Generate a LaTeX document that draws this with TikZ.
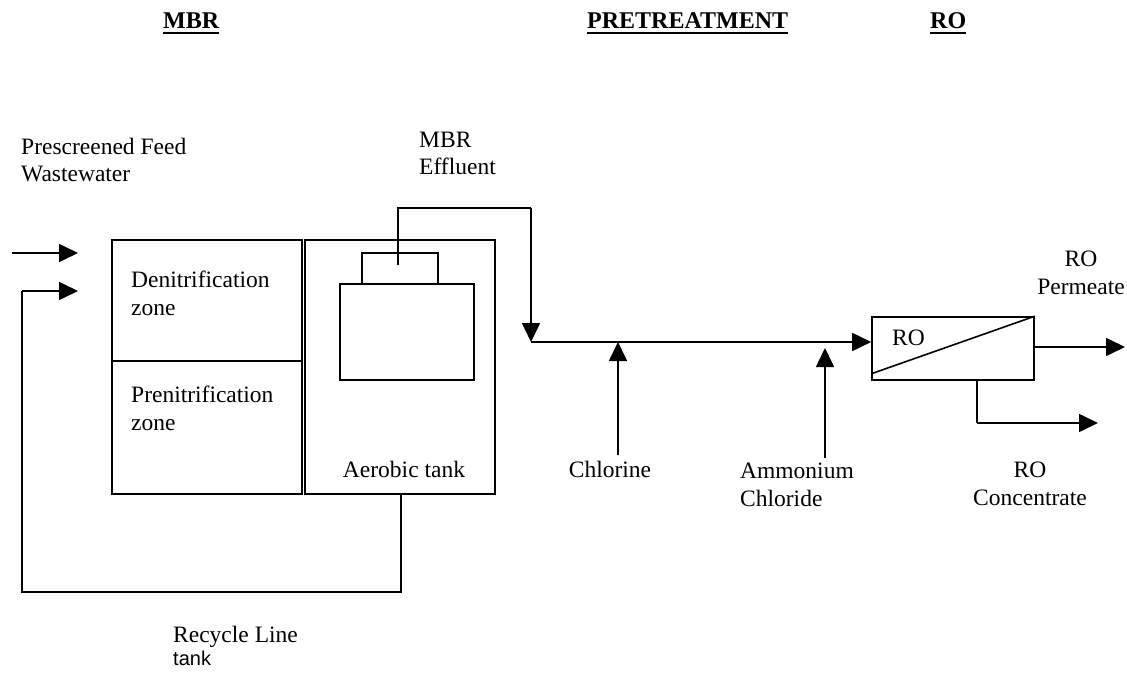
\documentclass[tikz,border=0pt]{standalone}
\usepackage{fontspec}
\setmainfont{Liberation Serif}
\newfontfamily\sansfnt{Liberation Sans}
\usetikzlibrary{arrows.meta}
\begin{document}
\begin{tikzpicture}[x=1pt,y=-1pt,
  flow/.style={line width=1.6pt,-{Triangle[length=19pt,width=18pt]}},
  pipe/.style={line width=1.6pt},
  box/.style={draw,line width=1.6pt,inner sep=0,minimum width=#1},
  lbl/.style={font=\fontsize{23.5}{28}\selectfont,align=left,inner sep=0,anchor=base west},
  hdr/.style={font=\fontsize{24}{28}\selectfont\bfseries,inner sep=0,anchor=base west},
  uline/.style={line width=2.6pt}]
\useasboundingbox (0,0) rectangle (1127,674);
% headers
\node[hdr] (hmbr) at (163,29) {MBR};
\node[hdr] (hpre) at (587,29) {PRETREATMENT};
\node[hdr] (hro) at (930,29) {RO};
\foreach \h in {hmbr,hpre,hro}
  \draw[uline] ([yshift=-4pt]\h.base west) -- ([yshift=-4pt]\h.base east);
% MBR tanks
\node[box=190pt,minimum height=121pt] (den) at (207,300.5) {};
\node[box=190pt,minimum height=133pt] (pren) at (207,427.5) {};
\node[box=190pt,minimum height=254pt] (aer) at (400,367) {};
\node[box=134pt,minimum height=96pt] (inner) at (407,332) {};
\node[box=76pt,minimum height=31pt] (small) at (400,268.5) {};
\node[lbl] (tden) at (131,315) {Denitrification\\zone};
\node[lbl] (tpren) at (131,430) {Prenitrification\\zone};
\node[lbl,anchor=base] (taer) at (404,477) {Aerobic tank};
% feed
\coordinate (f0) at (12,253);
\coordinate (f1) at (78,253);
\draw[flow] (f0) -- (f1);
\node[lbl] (tfeed) at (21,182) {Prescreened Feed\\Wastewater};
% recycle
\coordinate (r0) at (401,494);
\coordinate (r1) at (401,592);
\coordinate (r2) at (22,592);
\coordinate (r3) at (22,291);
\coordinate (r4) at (78,291);
\draw[pipe] (r0) -- (r1) -- (r2) -- (r3);
\draw[flow] (r3) -- (r4);
\node[lbl] (trec) at (173,642) {Recycle Line};
\node[inner sep=0,anchor=base west,font=\sansfnt\fontsize{20}{22}\selectfont] (ttank) at (173,665) {tank};
% effluent
\coordinate (p0) at (398,265);
\coordinate (p1) at (398,208);
\coordinate (p2) at (531,208);
\coordinate (m) at (531,342);
\draw[pipe] (p0) -- (p1) -- (p2);
\draw[flow] (p2) -- (m);
\node[lbl] (teff) at (419,175) {MBR\\Effluent};
% RO
\node[box=162pt,minimum height=63pt] (ro) at (953,348.5) {};
\draw[pipe] ([yshift=7pt]ro.south west) -- (ro.north east);
\node[lbl] (tro) at (892,345) {RO};
\draw[flow] (m) -- (m -| ro.west);
% chemicals
\coordinate (cl) at (618,455);
\draw[flow] (cl) -- (cl |- m);
\node[lbl,anchor=base] (tcl) at (610,477) {Chlorine};
\coordinate (am) at (825,458);
\coordinate (amt) at (825,348);
\draw[flow] (am) -- (amt);
\node[lbl] (tam) at (740,506) {Ammonium\\Chloride};
% outputs
\coordinate (pe) at (1125,347);
\draw[flow] (pe -| ro.east) -- (pe);
\node[lbl,anchor=base,align=center] (tpe) at (1081,294) {RO\\Permeate};
\coordinate (c0) at (977,423);
\coordinate (c1) at (1098,423);
\draw[pipe] (c0 |- ro.south) -- (c0);
\draw[flow] (c0) -- (c1);
\node[lbl,anchor=base,align=center] (tco) at (1030,505) {RO\\Concentrate};
\end{tikzpicture}
\end{document}
